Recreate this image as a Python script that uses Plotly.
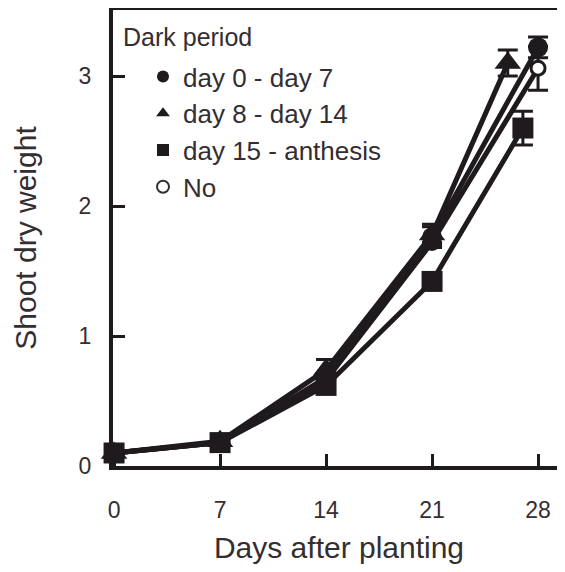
import plotly.graph_objects as go

# ---- data ----
series_names = ["day 0 - day 7", "day 8 - day 14", "day 15 - anthesis", "No"]

x_d0_7 = [0, 7, 14, 21, 28]
y_d0_7 = [0.10, 0.18, 0.68, 1.76, 3.22]
e_d0_7 = [0, 0, 0, 0.08, 0.08]

x_d8_14 = [0, 7, 14, 21, 26]
y_d8_14 = [0.10, 0.19, 0.74, 1.78, 3.10]
e_d8_14 = [0, 0, 0.08, 0.08, 0.10]

x_d15 = [0, 7, 14, 21, 27]
y_d15 = [0.10, 0.18, 0.62, 1.42, 2.60]
e_d15 = [0, 0, 0, 0, 0.13]

x_no = [0, 7, 14, 21, 28]
y_no = [0.10, 0.18, 0.66, 1.72, 3.06]
e_no = [0, 0, 0, 0, 0.17]

x_ticks = [0, 7, 14, 21, 28]
y_ticks = [0, 1, 2, 3]

INK = "#1f1a1d"
TXT = "#342d31"
FONT = "Liberation Sans, Arial, sans-serif"

plot_styles = {
    "day 0 - day 7": dict(symbol="circle", size=20, color=INK, line=dict(color=INK, width=0)),
    "day 8 - day 14": dict(symbol="triangle-up", size=23, color=INK, line=dict(color=INK, width=0)),
    "day 15 - anthesis": dict(symbol="square", size=21, color=INK, line=dict(color=INK, width=0)),
    "No": dict(symbol="circle", size=14, color="white", line=dict(color=INK, width=3)),
}
legend_styles = {
    "day 0 - day 7": dict(symbol="circle", size=17, color=INK),
    "day 8 - day 14": dict(symbol="triangle-up", size=17, color=INK),
    "day 15 - anthesis": dict(symbol="square", size=15, color=INK),
    "No": dict(symbol="circle", size=15, color="white", line=dict(color=TXT, width=2)),
}

data = {
    "day 0 - day 7": (x_d0_7, y_d0_7, e_d0_7),
    "day 8 - day 14": (x_d8_14, y_d8_14, e_d8_14),
    "day 15 - anthesis": (x_d15, y_d15, e_d15),
    "No": (x_no, y_no, e_no),
}

fig = go.Figure()
# draw "No" first so filled markers sit on top of it where they overlap
draw_order = ["No", "day 15 - anthesis", "day 8 - day 14", "day 0 - day 7"]
for name in draw_order:
    xs, ys, es = data[name]
    fig.add_trace(go.Scatter(
        x=xs, y=ys, mode="lines+markers",
        line=dict(color=INK, width=5),
        marker=plot_styles[name],
        error_y=dict(type="data", array=es, visible=True, color=INK,
                     thickness=3, width=10),
        showlegend=False, cliponaxis=False,
    ))

for name in series_names:
    fig.add_trace(go.Scatter(
        x=[None], y=[None], mode="markers", name=name,
        marker=legend_styles[name], showlegend=True,
    ))

fig.add_annotation(
    text="Dark period", xref="paper", yref="paper",
    x=(121 - 113) / 452, y=(466 - 37) / 456, xanchor="left", yanchor="middle",
    showarrow=False, font=dict(size=25, family=FONT, color=TXT),
)

# the page body has an 8px margin, so the figure is offset by (8, 8)
fig.update_layout(
    width=557, height=564,
    margin=dict(l=105, r=0, t=2, b=106),
    paper_bgcolor="white", plot_bgcolor="white",
    font=dict(family=FONT, color=TXT, size=23),
    showlegend=True,
    legend=dict(
        x=(143 - 113) / 452, y=(466 - 53) / 456, xanchor="left", yanchor="top",
        bgcolor="rgba(0,0,0,0)", font=dict(size=26, family=FONT, color=TXT),
        traceorder="normal", itemsizing="constant", tracegroupgap=0,
    ),
    xaxis=dict(
        range=[-0.07, 29.78], tickvals=x_ticks, ticktext=[str(v) for v in x_ticks],
        ticks="inside", ticklen=12, tickwidth=3, tickcolor=INK,
        showline=True, linewidth=4, linecolor=INK, mirror=True,
        showgrid=False, zeroline=False, automargin=False,
        ticklabelstandoff=20,
        tickfont=dict(size=23, family=FONT, color=TXT),
        title=dict(text="Days after planting", font=dict(size=30, family=FONT, color=TXT), standoff=16),
    ),
    yaxis=dict(
        range=[0, 3.508], tickvals=y_ticks, ticktext=[str(v) for v in y_ticks],
        ticks="inside", ticklen=12, tickwidth=3, tickcolor=INK,
        showline=True, linewidth=4, linecolor=INK, mirror=False,
        showgrid=False, zeroline=False, automargin=False,
        ticklabelstandoff=13,
        tickfont=dict(size=23, family=FONT, color=TXT),
        title=dict(text="Shoot dry weight", font=dict(size=30, family=FONT, color=TXT), standoff=34),
    ),
)

fig.write_html("out.html")
